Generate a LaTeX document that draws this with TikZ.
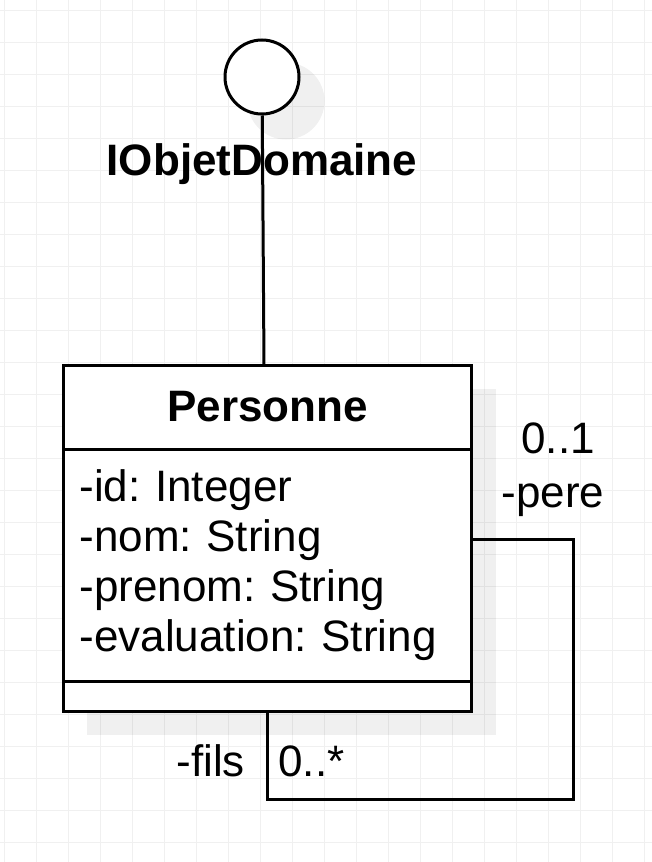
\documentclass[tikz,border=0pt]{standalone}
\usepackage{fontspec}
\setmainfont{Liberation Sans}
\usetikzlibrary{positioning}
\frenchspacing
\begin{document}
\begin{tikzpicture}[x=1pt,y=-1pt,line width=3pt,
  grille/.style={line width=1pt,black!6},
  ombre/.style={fill=black,fill opacity=.06},
  comp/.style={draw,fill=white,outer sep=0pt,minimum width=408pt,inner xsep=16pt},
  txt/.style={font=\fontsize{44}{50}\selectfont},
  gras/.style={font=\bfseries\fontsize{44}{50}\selectfont},
  lbl/.style={txt,inner sep=0pt}]
\useasboundingbox[fill=white](0,0)rectangle(652,862);
\foreach \i in {0,...,20}\draw[grille](4+32*\i,0)--++(0,862);
\foreach \j in {0,...,26}\draw[grille](0,10.5+32*\j)--++(652,0);
\begin{scope}
\fill[ombre](286,101)circle(38.5pt);
\fill[ombre](87,389)rectangle(495.5,735);
\end{scope}
\node[draw,fill=white,circle,minimum size=74pt,inner sep=0pt](iface)at(262,77){};
\node[gras,anchor=base](nom)at(262,175){IObjetDomaine};
\node[comp,gras,minimum height=84pt](titre)at(267.5,407){Personne};
\node[comp,txt,minimum height=232pt,text width=376pt,align=left,below=0pt of titre](attributs){-id: Integer\\-nom: String\\-prenom: String\\-evaluation: String};
\node[comp,minimum height=30pt,below=0pt of attributs](methodes){};
\coordinate(att)at(264,365);
\draw(iface)--(att);
\coordinate(pereA)at(471.5,539);
\coordinate(coin)at(573.5,799);
\coordinate(filsA)at(267,711);
\draw(pereA)-|(coin)-|(filsA);
\node[lbl,anchor=base](mpere)at(558,453){0..1};
\node[lbl,anchor=base](rpere)at(553,507){-pere};
\node[lbl,anchor=base west](rfils)at(175,776){-fils};
\node[lbl,anchor=base west](mfils)at(277,776){0..*};
\end{tikzpicture}
\end{document}
